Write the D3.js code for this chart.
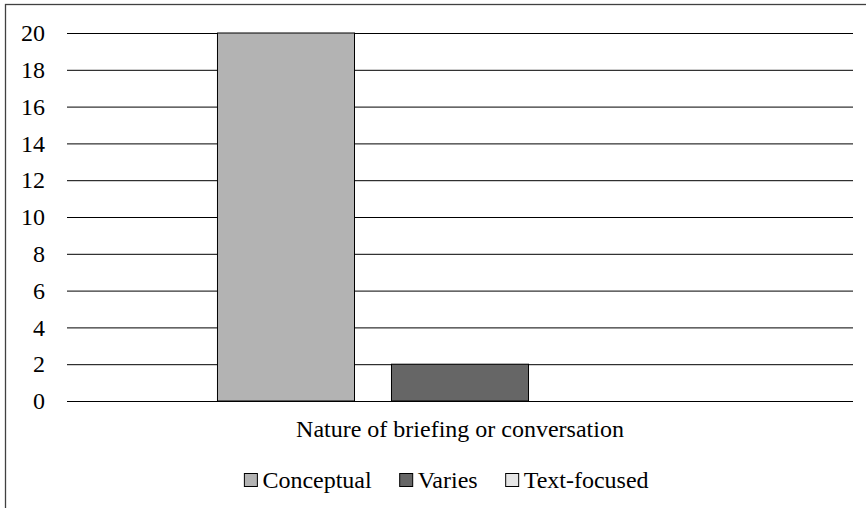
<!DOCTYPE html>
<html>
<head>
<meta charset="utf-8">
<script src="https://cdn.jsdelivr.net/npm/d3@7"></script>
<style>
  body { margin: 0; background: #fff; }
  svg text { font-family: "Liberation Serif", Tinos, "Times New Roman", Times, "DejaVu Serif", serif; fill: #000; }
</style>
</head>
<body>
<div id="chart"></div>
<script>
// data
var categories = ["Nature of briefing or conversation"];
var seriesNames = ["Conceptual", "Varies", "Text-focused"];
var seriesValues = [20, 2, 0];
var seriesColors = ["#b3b3b3", "#666666", "#e6e6e6"];
var yTicks = [0, 2, 4, 6, 8, 10, 12, 14, 16, 18, 20];

var fontStack = "'Liberation Serif', Tinos, 'Times New Roman', Times, 'DejaVu Serif', serif";

var W = 866, H = 508;
var margin = {top: 33, left: 67, right: 13, bottom: 107};
var width = W - margin.left - margin.right,
    height = H - margin.top - margin.bottom;

var svg = d3.select("#chart")
  .append("svg")
  .attr("width", W)
  .attr("height", H);

// outer border (chart area runs past the right/bottom edge)
svg.append("rect")
  .attr("x", 5.5).attr("y", 4.5)
  .attr("width", 900).attr("height", 600)
  .attr("fill", "none")
  .attr("stroke", "#404040")
  .attr("stroke-width", 1.3);

var g = svg.append("g")
  .attr("transform", "translate(" + margin.left + "," + margin.top + ")");

var y = d3.scaleLinear().domain([0, 20]).range([height, 0]);

var x0 = d3.scaleBand()
  .domain(categories)
  .range([0, width])
  .paddingOuter(0.203);

var x1 = d3.scaleBand()
  .domain(seriesNames)
  .range([0, x0.bandwidth()])
  .padding(0.2126);

// gridlines + tick labels
var yAxis = g.append("g")
  .attr("font-family", fontStack)
  .call(d3.axisLeft(y).tickValues(yTicks).tickSize(-width).tickPadding(22));
yAxis.attr("font-family", fontStack);
yAxis.select(".domain").remove();
yAxis.selectAll(".tick line").attr("stroke", "#000").attr("stroke-width", 1);
yAxis.selectAll(".tick text")
  .style("font-family", fontStack)
  .style("font-size", "24px")
  .attr("fill", "#000");

// bars
var data = seriesNames.map(function(s, i) { return {name: s, value: seriesValues[i], color: seriesColors[i]}; });
g.append("g")
  .attr("transform", "translate(" + x0(categories[0]) + ",0)")
  .selectAll("rect")
  .data(data)
  .enter().append("rect")
  .attr("x", function(d) { return x1(d.name); })
  .attr("y", function(d) { return y(d.value); })
  .attr("width", x1.bandwidth())
  .attr("height", function(d) { return height - y(d.value); })
  .attr("fill", function(d) { return d.color; })
  .attr("stroke", "#000")
  .attr("stroke-width", 1);

// category label
g.append("text")
  .attr("x", x0(categories[0]) + x0.bandwidth() / 2)
  .attr("y", height + 36)
  .attr("text-anchor", "middle")
  .style("font-family", fontStack)
  .style("font-size", "24px")
  .text(categories[0]);

// legend
var legend = svg.append("g").attr("transform", "translate(0,487)");
var items = legend.selectAll("g")
  .data(data)
  .enter().append("g");
items.append("rect")
  .attr("y", -14)
  .attr("width", 13).attr("height", 13)
  .attr("fill", function(d) { return d.color; })
  .attr("stroke", "#000")
  .attr("stroke-width", 1);
items.append("text")
  .attr("x", 18)
  .style("font-family", fontStack)
  .style("font-size", "24px")
  .text(function(d) { return d.name; });

var pos = 0, offsets = [];
items.each(function() {
  offsets.push(pos);
  pos += 18 + d3.select(this).select("text").node().getComputedTextLength() + 28;
});
var total = pos - 28;
var startX = 446 - total / 2;
items.attr("transform", function(d, i) { return "translate(" + (startX + offsets[i] + 0.5) + ",0.5)"; });
</script>
</body>
</html>
